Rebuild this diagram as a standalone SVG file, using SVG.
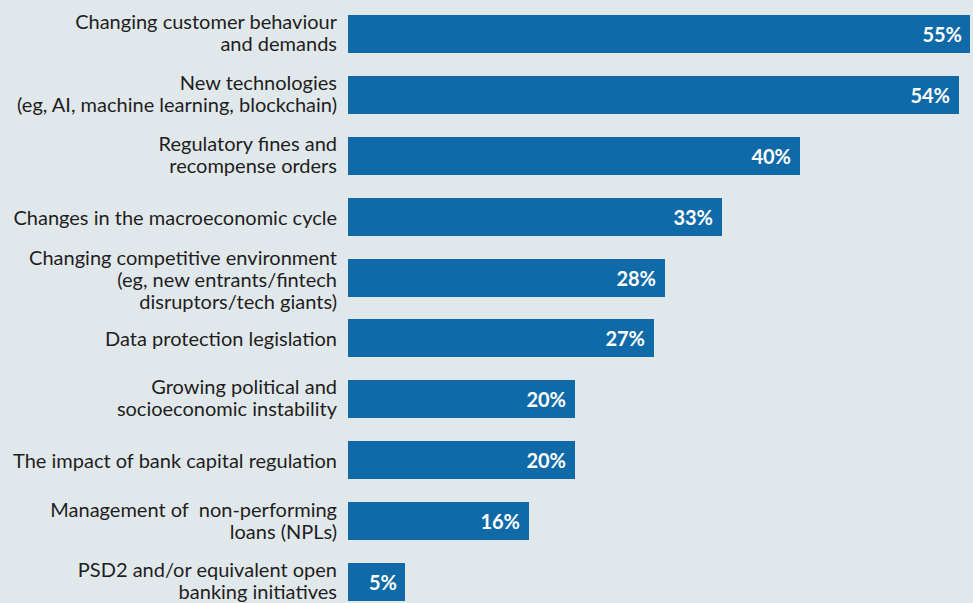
<svg xmlns="http://www.w3.org/2000/svg" width="973" height="603" viewBox="0 0 973 603">
<style>
.bg{fill:#e1e8eb}
.bar{fill:#106aa8}
.lbl{font-family:Lato,"Liberation Sans",sans-serif;font-size:20px;fill:#1e1e1e;text-anchor:end}
.val{font-family:Lato,"Liberation Sans",sans-serif;font-size:20px;font-weight:bold;fill:#ffffff;text-anchor:end}
.pre{white-space:pre}
</style>
<rect class="bg" x="0" y="0" width="973" height="603"/>
<g id="bar1"><rect class="bar" x="348" y="15" width="622" height="38"/><text class="lbl" x="337" y="29">Changing customer behaviour</text><text class="lbl" x="337" y="51">and demands</text><text class="val" x="962" y="42">55%</text></g>
<g id="bar2"><rect class="bar" x="348" y="76" width="611" height="38"/><text class="lbl" x="337" y="90">New technologies</text><text class="lbl" x="337" y="112">(eg, AI, machine learning, blockchain)</text><text class="val" x="950" y="103">54%</text></g>
<g id="bar3"><rect class="bar" x="348" y="137" width="452" height="38"/><text class="lbl" x="337" y="151">Regulatory fines and</text><text class="lbl" x="337" y="173">recompense orders</text><text class="val" x="791" y="164">40%</text></g>
<g id="bar4"><rect class="bar" x="348" y="198" width="374" height="38"/><text class="lbl" x="337" y="225">Changes in the macroeconomic cycle</text><text class="val" x="713" y="225">33%</text></g>
<g id="bar5"><rect class="bar" x="348" y="259" width="317" height="38"/><text class="lbl" x="337" y="265">Changing competitive environment</text><text class="lbl" x="337" y="287">(eg, new entrants/fintech</text><text class="lbl" x="337" y="309">disruptors/tech giants)</text><text class="val" x="656" y="286">28%</text></g>
<g id="bar6"><rect class="bar" x="348" y="319" width="306" height="38"/><text class="lbl" x="337" y="346">Data protection legislation</text><text class="val" x="645" y="346">27%</text></g>
<g id="bar7"><rect class="bar" x="348" y="380" width="227" height="38"/><text class="lbl" x="337" y="394">Growing political and</text><text class="lbl" x="337" y="416">socioeconomic instability</text><text class="val" x="566" y="407">20%</text></g>
<g id="bar8"><rect class="bar" x="348" y="441" width="227" height="38"/><text class="lbl" x="337" y="468">The impact of bank capital regulation</text><text class="val" x="566" y="468">20%</text></g>
<g id="bar9"><rect class="bar" x="348" y="502" width="181" height="38"/><text class="lbl pre" x="337" y="517" xml:space="preserve">Management of  non-performing</text><text class="lbl" x="337" y="539">loans (NPLs)</text><text class="val" x="520" y="529">16%</text></g>
<g id="bar10"><rect class="bar" x="348" y="563" width="57" height="38"/><text class="lbl" x="337" y="577">PSD2 and/or equivalent open</text><text class="lbl" x="337" y="599">banking initiatives</text><text class="val" x="397" y="590">5%</text></g>
<g id="connectors"/>
</svg>
